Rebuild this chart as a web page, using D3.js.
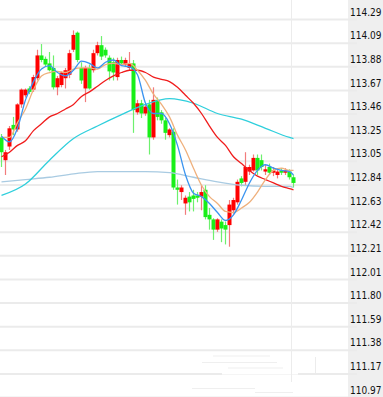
<!DOCTYPE html>
<html><head><meta charset="utf-8">
<script src="https://cdn.jsdelivr.net/npm/d3@7"></script>
<style>html,body{margin:0;padding:0;background:#fff;overflow:hidden}svg{display:block}</style>
</head><body><svg id="c" width="383" height="397"></svg>
<script>
// ---- data ----
const tickLabels = ["114.29","114.09","113.88","113.67","113.46","113.25","113.05","112.84","112.63","112.42","112.21","112.01","111.80","111.59","111.38","111.17","110.97"];
const openVals  = [113.25,113.05,113.17,113.36,113.32,113.54,113.62,113.68,113.67,113.77,113.97,113.94,113.90,113.86,113.69,113.71,113.77,113.80,114.02,114.17,113.86,113.68,113.86,113.84,113.99,114.06,114.02,113.95,113.91,113.78,113.93,113.89,113.86,113.90,113.47,113.55,113.46,113.54,113.25,113.58,113.47,113.40,113.27,113.30,112.81,112.77,112.67,112.73,112.74,112.74,112.73,112.79,112.57,112.53,112.44,112.51,112.48,112.48,112.61,112.68,112.89,112.86,112.95,112.96,113.07,113.05,112.95,112.99,112.94,112.92,112.96,112.94,112.95,112.90];
const highVals  = [113.28,113.14,113.35,113.43,113.55,113.68,113.68,113.70,113.80,114.02,114.07,113.96,114.00,113.97,113.79,113.83,113.86,114.02,114.19,114.18,113.91,113.88,113.89,114.02,114.09,114.14,114.04,113.97,113.95,113.95,113.96,113.95,114.00,113.93,113.58,113.58,113.54,113.58,113.69,113.60,113.49,113.42,113.33,113.33,112.88,112.83,112.74,112.77,112.79,112.77,112.83,112.83,112.63,112.54,112.54,112.53,112.51,112.70,112.72,112.88,112.91,113.12,113.01,113.10,113.10,113.10,113.01,113.02,112.99,112.98,112.98,112.98,112.97,112.92];
const lowVals   = [112.99,112.92,113.14,113.27,113.30,113.51,113.60,113.63,113.65,113.75,113.91,113.87,113.83,113.67,113.62,113.69,113.68,113.77,114.00,113.91,113.72,113.56,113.67,113.82,113.97,113.93,113.95,113.75,113.75,113.75,113.88,113.87,113.84,113.29,113.45,113.42,113.44,113.10,113.23,113.40,113.37,113.23,113.25,112.79,112.66,112.70,112.57,112.60,112.60,112.68,112.61,112.53,112.44,112.35,112.42,112.33,112.31,112.29,112.58,112.66,112.82,112.83,112.92,112.95,112.92,112.96,112.92,112.92,112.91,112.89,112.92,112.92,112.88,112.81];
const closeVals = [113.12,113.12,113.33,113.32,113.54,113.67,113.67,113.65,113.78,113.97,113.93,113.89,113.84,113.69,113.77,113.82,113.84,113.99,114.15,113.93,113.75,113.86,113.68,113.99,114.06,113.96,113.97,113.83,113.82,113.93,113.90,113.93,113.90,113.49,113.55,113.46,113.52,113.25,113.58,113.43,113.40,113.29,113.32,112.81,112.79,112.81,112.72,112.68,112.71,112.72,112.77,112.55,112.53,112.44,112.53,112.45,112.44,112.66,112.70,112.86,112.85,112.99,112.99,113.07,112.96,112.99,112.97,112.94,112.96,112.95,112.94,112.96,112.90,112.85];

// moving-average lines, read at these candle positions
const fastIdx = [0,2,4,6,8,10,12,14,16,18,20,22,24,26,28,30,32,34,36,38,40,42,44,46,48,50,52,54,56,58,60,62,64,66,68,70,72,73];
const ma5  = [113.26,113.21,113.33,113.58,113.74,113.85,113.88,113.82,113.79,113.84,113.92,113.90,113.86,113.91,113.93,113.88,113.87,113.80,113.55,113.46,113.46,113.37,113.18,112.92,112.76,112.73,112.67,112.59,112.52,112.57,112.70,112.85,112.96,113.01,112.98,112.96,112.95,112.92];
const ma10 = [113.25,113.25,113.38,113.50,113.67,113.79,113.82,113.83,113.82,113.85,113.86,113.86,113.85,113.89,113.90,113.89,113.90,113.84,113.75,113.63,113.54,113.43,113.27,113.14,112.98,112.83,112.73,112.67,112.60,112.59,112.63,112.68,112.77,112.88,112.96,112.98,112.96,112.96];
const ma20 = [113.08,113.12,113.18,113.22,113.31,113.37,113.43,113.46,113.50,113.54,113.61,113.65,113.70,113.75,113.79,113.82,113.84,113.84,113.82,113.78,113.76,113.74,113.69,113.62,113.55,113.46,113.35,113.25,113.18,113.08,113.02,112.96,112.91,112.88,112.85,112.82,112.80,112.79];
const slowIdx = [0,6,12,18,24,30,36,42,48,54,60,66,72,73];
const ma60  = [112.74,112.84,113.05,113.24,113.35,113.45,113.54,113.59,113.55,113.46,113.41,113.33,113.25,113.24];
const ma120 = [112.86,112.88,112.90,112.93,112.95,112.95,112.95,112.94,112.90,112.86,112.83,112.82,112.82,112.81];

// ---- chart ----
const W = 383, H = 397;
const svg = d3.select("#c");
const yMax = +tickLabels[0], yMin = +tickLabels[tickLabels.length - 1];
const y = d3.scaleLinear().domain([yMin, yMax]).range([397, 19]);
const x = d3.scaleLinear().domain([0, openVals.length - 1]).range([1.5, 293.5]);
const tickVals = tickLabels.map((_, k) => yMax - k * (yMax - yMin) / (tickLabels.length - 1));

// label panel
svg.append("rect").attr("x", 348).attr("y", 0).attr("width", W - 348).attr("height", H).attr("fill", "#efefef");

// grid lines
const grid = svg.append("g").call(d3.axisRight(y).tickValues(tickVals).tickSize(357).tickFormat(""));
grid.select(".domain").remove();
grid.selectAll("line").attr("stroke", "#ebebeb").attr("stroke-width", 2);

// faint remnants near the bottom right (decoration seen in the picture)
const deco = svg.append("g").attr("stroke-width", 1);
deco.append("line").attr("x1", 222).attr("x2", 298).attr("y1", 373).attr("y2", 373).attr("stroke", "#fff").attr("stroke-width", 3);
[[213,270,356],[202,277,362.5],[228,283,368],[192,255,388.5],[255,293,392.5]].forEach(s =>
  deco.append("line").attr("x1", s[0]).attr("x2", s[1]).attr("y1", s[2]).attr("y2", s[2]).attr("stroke", "#efefef"));
deco.append("line").attr("x1", 315.5).attr("x2", 315.5).attr("y1", 357).attr("y2", 373).attr("stroke", "#ececec");

// faint vertical separator
svg.append("line").attr("x1", 291.5).attr("x2", 291.5).attr("y1", 0).attr("y2", 382)
  .attr("stroke", "#ececec").attr("stroke-width", 1);

// axis labels
const lab = svg.append("g").attr("transform", "translate(349,-7)")
  .call(d3.axisRight(y).tickValues(tickVals).tickSize(0).tickPadding(1).tickFormat((d, i) => tickLabels[i]));
lab.select(".domain").remove();
lab.selectAll("text").attr("fill", "#111").attr("font-size", 10)
  .attr("font-family", "'DejaVu Sans Condensed','DejaVu Sans',sans-serif");

// candles
const candles = openVals.map((o, i) => ({i, o, h: highVals[i], l: lowVals[i], c: closeVals[i]}));
const cg = svg.append("g");
cg.selectAll("line.w").data(candles).join("line").attr("class", "w")
  .attr("x1", d => x(d.i)).attr("x2", d => x(d.i))
  .attr("y1", d => y(d.h)).attr("y2", d => y(d.l))
  .attr("stroke", d => d.c >= d.o ? "#f27c7c" : "#6ef06e").attr("stroke-width", 1.2);
cg.selectAll("rect").data(candles).join("rect")
  .attr("x", d => x(d.i) - 2).attr("width", 4)
  .attr("y", d => y(Math.max(d.o, d.c)))
  .attr("height", d => Math.max(1.5, Math.abs(y(d.o) - y(d.c))))
  .attr("fill", d => d.c >= d.o ? "#ff0000" : "#18ef18");

// MA lines
function drawLine(idx, vals, color) {
  const line = d3.line().x((d, k) => x(idx[k])).y(d => y(d)).curve(d3.curveMonotoneX);
  svg.append("path").datum(vals).attr("d", line).attr("fill", "none")
    .attr("stroke", color).attr("stroke-width", 1.3);
}
drawLine(slowIdx, ma120, "#a9cbe2");
drawLine(slowIdx, ma60, "#2fcfdc");
drawLine(fastIdx, ma20, "#f01c1c");
drawLine(fastIdx, ma10, "#efb07c");
drawLine(fastIdx, ma5, "#3a94f0");
</script></body></html>
